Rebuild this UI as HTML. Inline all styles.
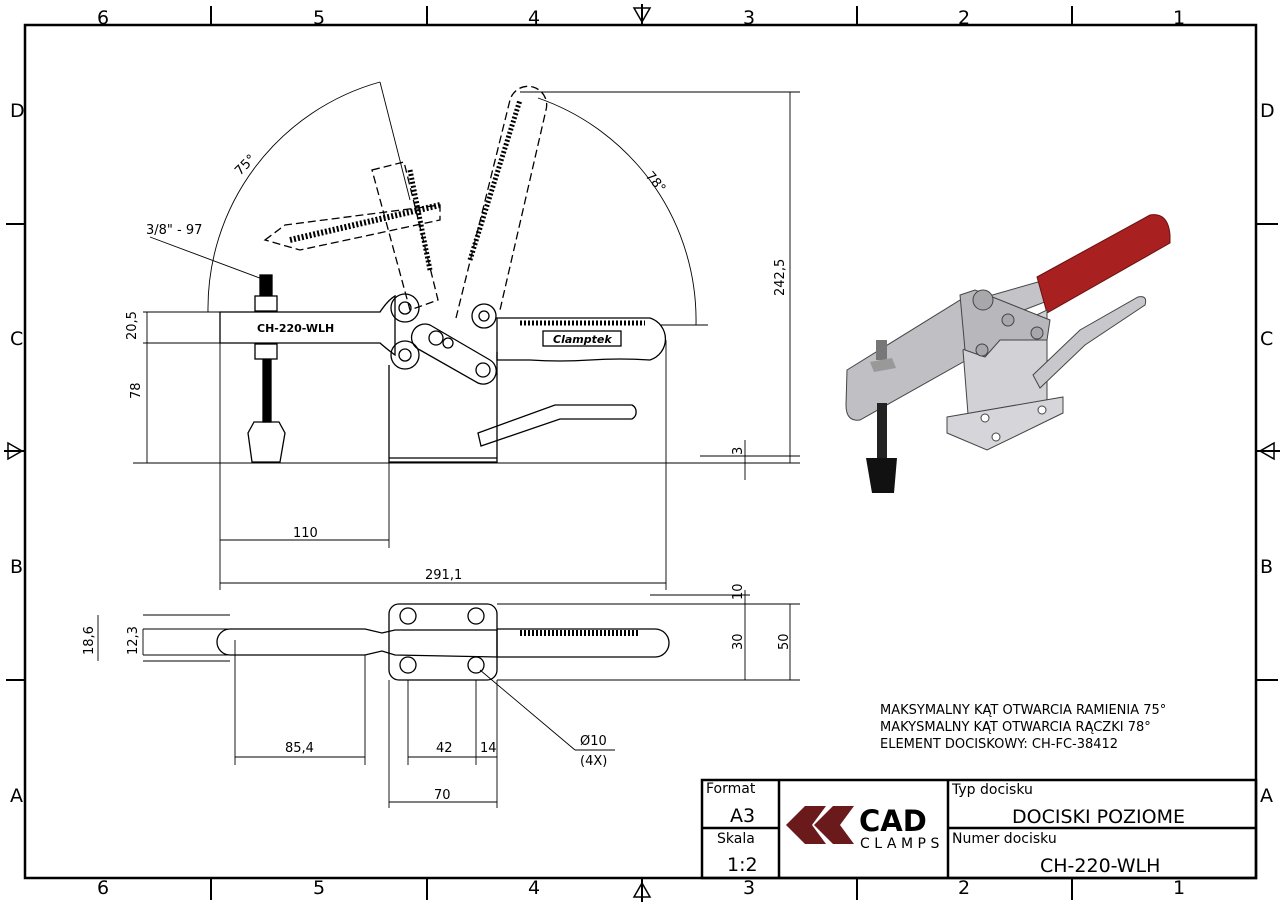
<!DOCTYPE html>
<html><head><meta charset="utf-8"><style>
html,body{margin:0;padding:0;background:#fff}
svg{display:block}
text{font-family:"DejaVu Sans","Liberation Sans",sans-serif;fill:#000}
</style></head><body>
<svg width="1283" height="905" viewBox="0 0 1283 905" xmlns="http://www.w3.org/2000/svg">
<rect x="0" y="0" width="1283" height="905" fill="#fff"/>
<rect x="25" y="25" width="1231" height="853" fill="none" stroke="#000" stroke-width="2.5"/>
<g stroke="#000" stroke-width="2">
<line x1="211" y1="6" x2="211" y2="25"/><line x1="427" y1="6" x2="427" y2="25"/><line x1="857" y1="6" x2="857" y2="25"/><line x1="1072" y1="6" x2="1072" y2="25"/>
<line x1="211" y1="878" x2="211" y2="900"/><line x1="427" y1="878" x2="427" y2="900"/><line x1="857" y1="878" x2="857" y2="900"/><line x1="1072" y1="878" x2="1072" y2="900"/>
<line x1="6" y1="224" x2="25" y2="224"/><line x1="6" y1="680" x2="25" y2="680"/>
<line x1="1256" y1="224" x2="1278" y2="224"/><line x1="1256" y1="680" x2="1278" y2="680"/>
<line x1="642" y1="4" x2="642" y2="25"/><line x1="642" y1="878" x2="642" y2="902"/>
<line x1="4" y1="451" x2="25" y2="451"/><line x1="1256" y1="451" x2="1280" y2="451"/>
</g>
<g fill="none" stroke="#000" stroke-width="1.5">
<path d="M634 8 L650 8 L642 22 Z"/><path d="M634 897 L650 897 L642 883 Z"/>
<path d="M8 443 L8 459 L22 451 Z"/><path d="M1274 443 L1274 459 L1260 451 Z"/>
</g>
<g font-size="19">
<text x="97" y="24">6</text><text x="313" y="24">5</text><text x="528" y="24">4</text><text x="743" y="24">3</text><text x="958" y="24">2</text><text x="1173" y="24">1</text>
<text x="97" y="894">6</text><text x="313" y="894">5</text><text x="528" y="894">4</text><text x="743" y="894">3</text><text x="958" y="894">2</text><text x="1173" y="894">1</text>
<text x="10" y="117">D</text><text x="10" y="345">C</text><text x="10" y="573">B</text><text x="10" y="802">A</text>
<text x="1260" y="117">D</text><text x="1260" y="345">C</text><text x="1260" y="573">B</text><text x="1260" y="802">A</text>
</g>

<g stroke="#000" stroke-width="2.5" fill="none">
<rect x="702" y="780" width="554" height="98"/>
<line x1="779" y1="780" x2="779" y2="878"/><line x1="948" y1="780" x2="948" y2="878"/>
<line x1="702" y1="828" x2="779" y2="828"/><line x1="948" y1="828" x2="1256" y2="828"/>
</g>
<text x="706" y="793" font-size="14">Format</text>
<text x="730" y="822" font-size="19">A3</text>
<text x="717" y="843" font-size="14">Skala</text>
<text x="727" y="871" font-size="19">1:2</text>
<text x="952" y="794" font-size="14">Typ docisku</text>
<text x="1012" y="823" font-size="19">DOCISKI POZIOME</text>
<text x="952" y="843" font-size="14">Numer docisku</text>
<text x="1040" y="872" font-size="19">CH-220-WLH</text>
<path d="M805 806 L826 806 L812 825 L826 844 L805 844 L786 825 Z" fill="#6b1a1c"/>
<path d="M833 806 L854 806 L840 825 L854 844 L833 844 L814 825 Z" fill="#6b1a1c"/>
<text x="859" y="831" font-size="29" font-weight="bold" font-family="Liberation Sans,sans-serif">CAD</text>
<text x="860" y="848" font-size="14" letter-spacing="4.5" font-family="Liberation Sans,sans-serif">CLAMPS</text>

<g font-size="13">
<text x="880" y="714">MAKSYMALNY KĄT OTWARCIA RAMIENIA 75°</text>
<text x="880" y="731">MAKYSMALNY KĄT OTWARCIA RĄCZKI 78°</text>
<text x="880" y="748">ELEMENT DOCISKOWY: CH-FC-38412</text>
</g>

<g fill="none" stroke="#000" stroke-width="1.3">
<path d="M220 312 L380 312 Q388 300 395 296 L395 355 Q388 350 380 343 L220 343 Z"/>
<path d="M389 365 L389 462 L497 462 L497 352"/>
<line x1="389" y1="458" x2="497" y2="458"/>
<circle cx="405" cy="308" r="14"/><circle cx="405" cy="355" r="14"/>
<circle cx="405" cy="308" r="6"/><circle cx="405" cy="355" r="6"/>
<path d="M430 325 L490 360 A13 13 0 0 1 478 383 L420 350 A13 13 0 0 1 430 325 Z"/>
<circle cx="436" cy="338" r="7"/><circle cx="483" cy="370" r="7"/><circle cx="448" cy="343" r="5"/>
<circle cx="484" cy="316" r="12"/><circle cx="484" cy="316" r="5"/>
<path d="M497 318 L650 318 A22 22 0 0 1 650 360 Q620 358 590 360 Q560 362 530 360 L497 360 Z"/>
<rect x="543" y="331" width="78" height="15"/>
<path d="M478 433 L555 405 L632 405 A8 8 0 0 1 632 419 L560 419 L481 446 Z"/>
<rect x="255" y="296" width="22" height="15"/><rect x="255" y="344" width="22" height="15"/>
<rect x="260" y="275" width="12" height="20" fill="#000"/>
<rect x="263" y="360" width="8" height="62" fill="#000"/>
<path d="M254 422 L279 422 L285 433 L280 462 L252 462 L248 433 Z"/>
<g stroke-dasharray="8 4">
<path d="M372 170 L404 162 L438 300 L410 310 Z"/>
<path d="M456 318 L510 100 A18 18 0 0 1 546 110 L500 310"/>
<path d="M265 240 L285 225 L440 205 L440 220 L300 250 Z"/>
</g>
<path d="M470 260 L520 100" stroke-width="5" stroke-dasharray="2 2"/>
<path d="M410 170 L430 270" stroke-width="5" stroke-dasharray="2 2"/>
<path d="M290 240 L440 205" stroke-width="6" stroke-dasharray="2 2"/>
<path d="M520 323 L645 323" stroke-width="5" stroke-dasharray="2 2"/>
</g>
<text x="257" y="332" font-size="11" font-weight="bold">CH-220-WLH</text>
<text x="553" y="343" font-size="11" font-style="italic" font-weight="bold" font-family="Liberation Serif,serif">Clamptek</text>

<g fill="none" stroke="#000" stroke-width="0.9">
<line x1="133" y1="463" x2="800" y2="463"/>
<line x1="143" y1="312" x2="220" y2="312"/><line x1="143" y1="343" x2="220" y2="343"/>
<line x1="147" y1="312" x2="147" y2="463"/>
<line x1="220" y1="343" x2="220" y2="590"/><line x1="389" y1="462" x2="389" y2="548"/><line x1="666" y1="340" x2="666" y2="590"/>
<line x1="220" y1="540" x2="389" y2="540"/><line x1="220" y1="583" x2="666" y2="583"/>
<line x1="520" y1="92" x2="800" y2="92"/><line x1="790" y1="92" x2="790" y2="463"/>
<line x1="660" y1="325" x2="708" y2="325"/><line x1="700" y1="456" x2="800" y2="456"/>
<line x1="745" y1="440" x2="745" y2="480"/>
<path d="M208 312 A235 235 0 0 1 380 82"/>
<path d="M538 98 A235 235 0 0 1 696 325"/>
<line x1="380" y1="82" x2="410" y2="200"/>
<line x1="150" y1="237" x2="265" y2="280"/>
</g>
<g font-size="13">
<text x="293" y="537">110</text><text x="425" y="579">291,1</text>
<text transform="translate(140,399) rotate(-90)">78</text>
<text transform="translate(136,340) rotate(-90)">20,5</text>
<text transform="translate(784,296) rotate(-90)">242,5</text>
<text transform="translate(742,455) rotate(-90)">3</text>
<text x="146" y="234">3/8" - 97</text>
<text transform="translate(240,176) rotate(-45)">75°</text>
<text transform="translate(645,176) rotate(50)">78°</text>
</g>

<g fill="none" stroke="#000" stroke-width="1.3">
<rect x="389" y="604" width="108" height="76" rx="10"/>
<circle cx="408" cy="616" r="8"/><circle cx="476" cy="616" r="8"/><circle cx="408" cy="665" r="8"/><circle cx="476" cy="665" r="8"/>
<path d="M230 629 L365 629 L382 633 L395 630 L497 630 L497 657 L395 655 L382 651 L365 655 L230 655 A13 13 0 0 1 230 629 Z"/>
<path d="M497 629 L655 629 A14 14 0 0 1 655 657 L497 657"/>
<path d="M520 633 L640 633" stroke-width="6" stroke-dasharray="2 2"/>
</g>
<g fill="none" stroke="#000" stroke-width="0.9">
<line x1="143" y1="615" x2="230" y2="615"/><line x1="143" y1="661" x2="230" y2="661"/>
<line x1="143" y1="629" x2="230" y2="629"/><line x1="143" y1="655" x2="230" y2="655"/>
<line x1="98" y1="615" x2="98" y2="661"/><line x1="143" y1="629" x2="143" y2="655"/>
<line x1="497" y1="604" x2="800" y2="604"/><line x1="497" y1="680" x2="800" y2="680"/>
<line x1="650" y1="595" x2="750" y2="595"/>
<line x1="745" y1="590" x2="745" y2="680"/><line x1="790" y1="604" x2="790" y2="680"/>
<line x1="235" y1="640" x2="235" y2="765"/><line x1="365" y1="655" x2="365" y2="765"/>
<line x1="235" y1="757" x2="365" y2="757"/>
<line x1="408" y1="680" x2="408" y2="765"/><line x1="476" y1="680" x2="476" y2="765"/><line x1="497" y1="680" x2="497" y2="765"/>
<line x1="408" y1="757" x2="497" y2="757"/>
<line x1="389" y1="680" x2="389" y2="808"/><line x1="497" y1="765" x2="497" y2="808"/>
<line x1="389" y1="802" x2="497" y2="802"/>
<line x1="480" y1="670" x2="575" y2="750"/><line x1="575" y1="750" x2="615" y2="750"/>
</g>
<g font-size="13">
<text transform="translate(93,655) rotate(-90)">18,6</text>
<text transform="translate(137,655) rotate(-90)">12,3</text>
<text transform="translate(742,600) rotate(-90)">10</text>
<text transform="translate(742,650) rotate(-90)">30</text>
<text transform="translate(788,650) rotate(-90)">50</text>
<text x="285" y="752">85,4</text><text x="436" y="752">42</text><text x="480" y="752">14</text>
<text x="434" y="799">70</text>
<text x="580" y="745">Ø10</text><text x="580" y="765">(4X)</text>
</g>

<!-- photo -->
<g stroke="#444" stroke-width="1">
<path d="M975 300 L1045 280 L1050 300 L985 325 Z" fill="#c4c4c8"/>
<path d="M1037 277 L1150 215 Q1168 212 1170 235 L1170 243 L1047 313 Z" fill="#a82020" stroke="#6a1010"/>
<path d="M847 370 L965 297 L972 357 L860 420 Q846 422 846 405 Z" fill="#c0c0c4"/>
<path d="M963 350 L1047 310 L1047 413 L970 440 Z" fill="#d2d2d6"/>
<path d="M947 417 L1063 397 L1063 413 L987 450 L947 433 Z" fill="#d6d6da"/>
<path d="M960 295 L975 290 L1000 300 L1050 320 L1047 340 L1000 340 L985 357 L965 350 Z" fill="#b8b8bc"/>
<circle cx="983" cy="300" r="10" fill="#a8a8ac"/>
<circle cx="982" cy="350" r="6" fill="#a8a8ac"/><circle cx="1008" cy="320" r="6" fill="#a8a8ac"/><circle cx="1037" cy="333" r="6" fill="#a8a8ac"/>
<path d="M1033 375 L1080 330 L1138 297 Q1148 295 1145 305 L1085 345 L1040 388 Z" fill="#c8c8cc"/>
<circle cx="985" cy="418" r="4" fill="#fff"/><circle cx="1042" cy="410" r="4" fill="#fff"/><circle cx="996" cy="437" r="4" fill="#fff"/>
</g>
<rect x="876" y="340" width="11" height="20" fill="#777"/>
<path d="M870 362 L892 358 L896 368 L874 372 Z" fill="#999"/>
<rect x="877" y="403" width="10" height="55" fill="#222"/>
<path d="M866 458 L897 458 L894 493 L872 493 Z" fill="#111"/>
</svg>
</body></html>
